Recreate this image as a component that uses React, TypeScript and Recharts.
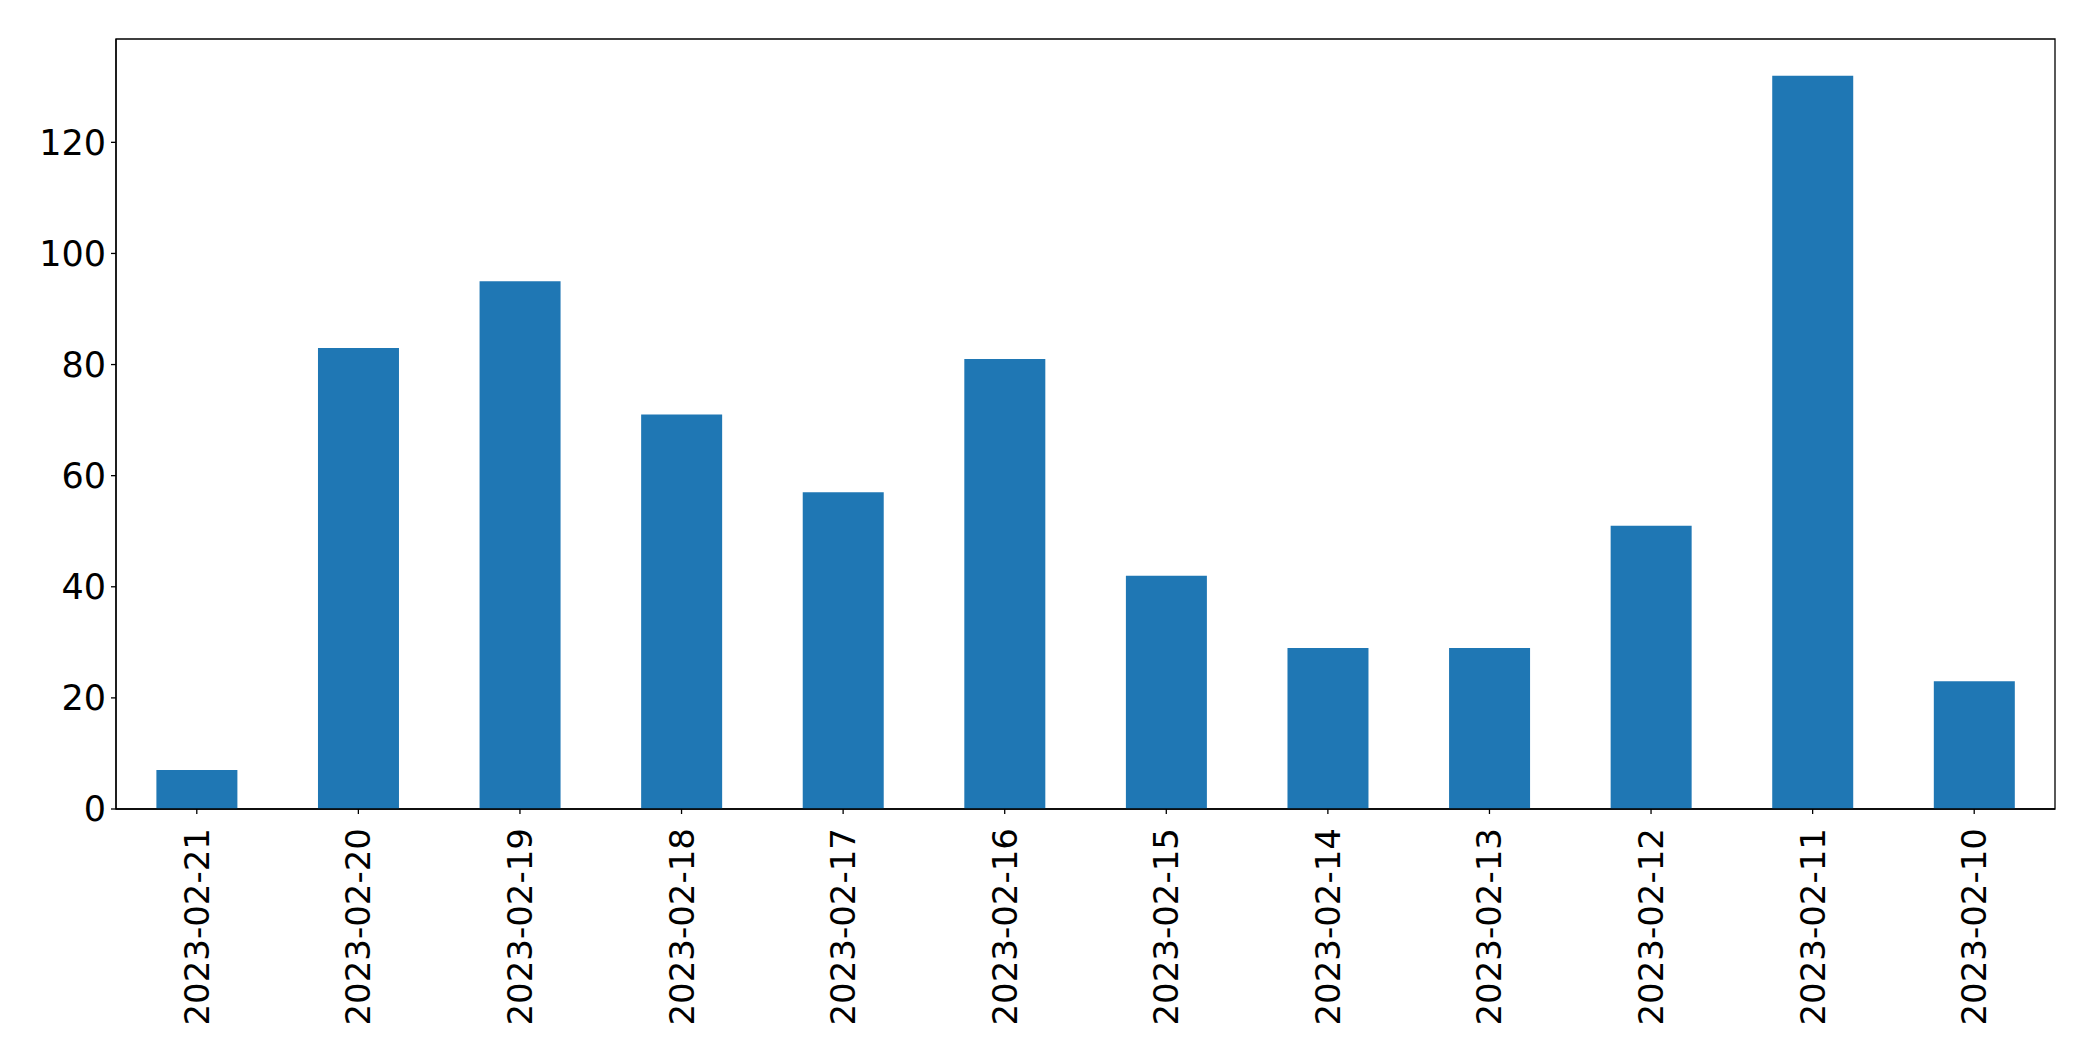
import { BarChart, Bar, XAxis, YAxis, ReferenceArea } from 'recharts';

const dates = [
  '2023-02-21', '2023-02-20', '2023-02-19', '2023-02-18', '2023-02-17', '2023-02-16',
  '2023-02-15', '2023-02-14', '2023-02-13', '2023-02-12', '2023-02-11', '2023-02-10',
];
const counts = [7, 83, 95, 71, 57, 81, 42, 29, 29, 51, 132, 23];
const yTicks = [0, 20, 40, 60, 80, 100, 120];

const data = dates.map((d, i) => ({ date: d, count: counts[i] }));

const FONT = '"DejaVu Sans", sans-serif';

const DateTick = (props: any) => {
  const { x, y, payload } = props;
  return (
    <text
      x={x}
      y={y + 12}
      transform={`rotate(-90, ${x}, ${y + 12})`}
      textAnchor="end"
      dominantBaseline="central"
      fontFamily={FONT}
      fontSize={34}
      fill="#000"
    >
      {payload.value}
    </text>
  );
};

export default function App() {
  return (
    <div style={{ position: 'absolute', left: 0, top: 0, background: '#fff' }}>
      <BarChart
        width={2093}
        height={1061}
        data={data}
        margin={{ top: 39, right: 38, left: 0, bottom: 0 }}
        barCategoryGap="25%"
      >
        <XAxis
          dataKey="date"
          height={252}
          interval={0}
          axisLine={{ stroke: '#000', strokeWidth: 1.3 }}
          tickLine={{ stroke: '#000', strokeWidth: 1.3 }}
          tickSize={5}
          tick={<DateTick />}
        />
        <YAxis
          width={116}
          domain={[0, 138.6]}
          ticks={yTicks}
          interval={0}
          axisLine={{ stroke: '#000', strokeWidth: 1.3 }}
          tickLine={{ stroke: '#000', strokeWidth: 1.3 }}
          tickSize={5}
          tickMargin={5}
          tick={{ fill: '#000', fontSize: 35, fontFamily: FONT }}
        />
        <Bar dataKey="count" fill="#1f77b4" isAnimationActive={false} />
        <ReferenceArea y1={0} y2={138.6} fill="none" stroke="#000" strokeWidth={1.3} />
      </BarChart>
    </div>
  );
}
